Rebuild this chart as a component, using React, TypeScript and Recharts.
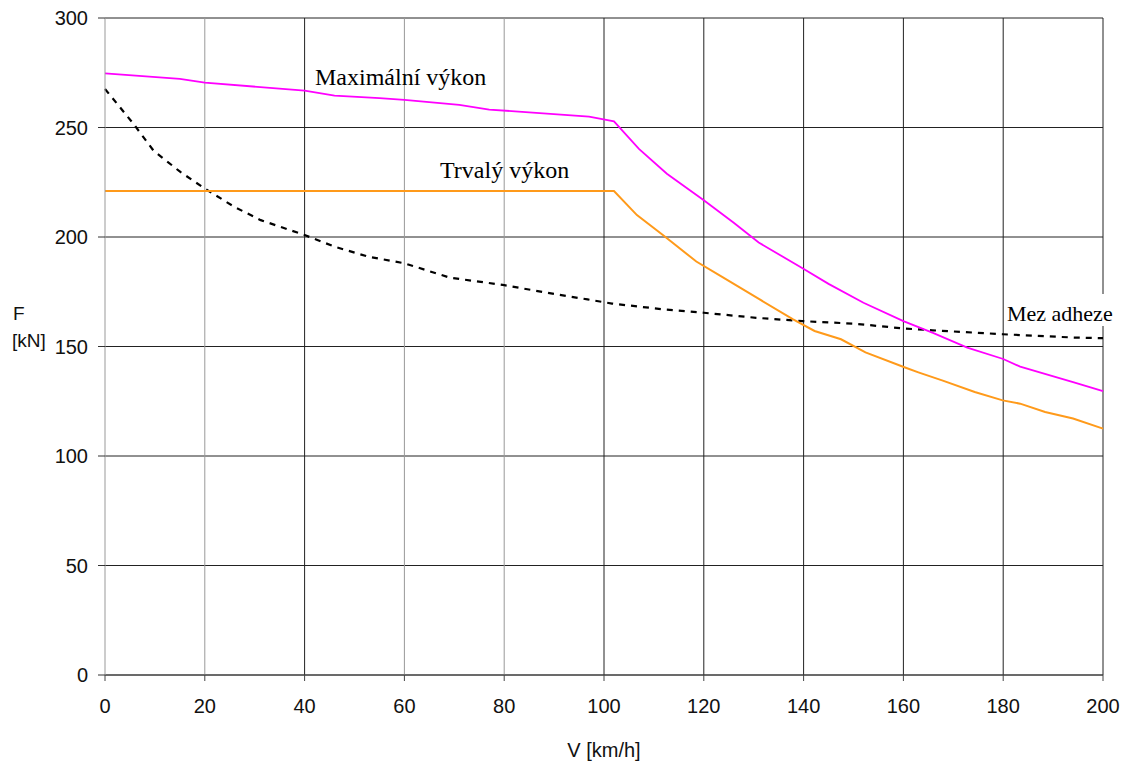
import React from 'react';
import { LineChart, Line, XAxis, YAxis, CartesianGrid, ReferenceLine } from 'recharts';

// speed [km/h] and force [kN]
const maxV = [0, 15, 20, 40, 46, 55, 60, 71, 77, 97, 102, 107, 112.6, 120, 126, 131, 139.7, 145, 152, 160, 165.8, 172.8, 180, 183.4, 194, 200];
const maxF = [274.7, 272.2, 270.5, 266.8, 264.6, 263.4, 262.6, 260.3, 258.2, 255, 252.8, 240.2, 228.9, 216.8, 206.5, 197.5, 185.8, 178.6, 170, 161.6, 156.3, 149.5, 144.3, 140.8, 133.7, 129.6];

const trvV = [0, 102, 106.6, 111.8, 118.5, 123.5, 131.2, 137.9, 142.2, 147.5, 152.4, 160.2, 163, 167.9, 174.3, 179.9, 183.4, 188.4, 194, 200];
const trvF = [221, 221, 210, 200.9, 188.8, 182, 171.5, 162.4, 157.1, 153.3, 147.3, 140.5, 138.2, 134.4, 129.2, 125.4, 123.9, 120.1, 117.1, 112.5];

const adhV = [0, 5.7, 9.7, 15.1, 20, 25.9, 31.2, 40, 46.1, 52.8, 60, 69, 80, 90, 96.7, 101.6, 112.2, 120, 130.5, 139.7, 150.3, 160.2, 165.8, 179.9, 194, 200];
const adhF = [267.6, 251.7, 239.5, 229.7, 222.1, 213.8, 207.7, 200.9, 195.5, 191, 188, 181.5, 178, 174, 171.5, 169.6, 166.9, 165.4, 163.1, 161.6, 160.4, 158.2, 157.4, 155.6, 154.1, 153.8];

const xTicks = [0, 20, 40, 60, 80, 100, 120, 140, 160, 180, 200];
const yTicks = [0, 50, 100, 150, 200, 250, 300];

const gridGrey = [20, 60, 80];

const toPoints = (vs: number[], fs: number[]) => vs.map((v, i) => ({ v, f: fs[i] }));

const sans = '"Liberation Sans", Arial, sans-serif';
const serif = '"Liberation Serif", "Times New Roman", serif';

export default function App() {
  const tickStyle = { fontSize: 20, fill: '#111', fontFamily: sans };
  return (
    <div style={{ position: 'absolute', left: 0, top: 0, width: 1130, height: 765, background: '#fff' }}>
      <LineChart width={1130} height={765} margin={{ top: 18, right: 27, bottom: 0, left: 0 }}>
        <CartesianGrid vertical={false} stroke="#222" strokeWidth={1} />
        {xTicks.slice(1).map((t) => (
          <ReferenceLine key={t} x={t} stroke={gridGrey.includes(t) ? '#999' : '#222'} strokeWidth={1} />
        ))}
        <XAxis
          type="number"
          dataKey="v"
          domain={[0, 200]}
          ticks={xTicks}
          height={90}
          tickSize={6}
          tickMargin={18}
          tick={tickStyle}
          stroke="#444"
          tickLine={{ stroke: '#444' }}
        />
        <YAxis
          type="number"
          dataKey="f"
          domain={[0, 300]}
          ticks={yTicks}
          width={105}
          tickSize={7}
          tickMargin={10}
          tick={tickStyle}
          axisLine={{ stroke: '#999' }}
          tickLine={{ stroke: '#333' }}
        />
        <Line
          data={toPoints(adhV, adhF)}
          dataKey="f"
          type="linear"
          stroke="#000"
          strokeWidth={2.2}
          strokeDasharray="6 6"
          dot={false}
          isAnimationActive={false}
        />
        <Line
          data={toPoints(trvV, trvF)}
          dataKey="f"
          type="linear"
          stroke="#ff9a1a"
          strokeWidth={2}
          dot={false}
          isAnimationActive={false}
        />
        <Line
          data={toPoints(maxV, maxF)}
          dataKey="f"
          type="linear"
          stroke="#ff00ff"
          strokeWidth={1.8}
          dot={false}
          isAnimationActive={false}
        />
      </LineChart>
      <svg
        width={1130}
        height={765}
        style={{ position: 'absolute', left: 0, top: 0, pointerEvents: 'none' }}
      >
        <text x={315} y={85} fontFamily={serif} fontSize={24} fill="#000">Maximální výkon</text>
        <text x={440} y={178} fontFamily={serif} fontSize={24} fill="#000">Trvalý výkon</text>
        <rect x={1004} y={294} width={112} height={32} fill="#fff" />
        <text x={1007} y={321} fontFamily={serif} fontSize={22} fill="#000">Mez adheze</text>
        <text x={13} y={320} fontFamily={sans} fontSize={19} fill="#111">F</text>
        <text x={12} y={347} fontFamily={sans} fontSize={19} fill="#111">[kN]</text>
        <text x={604} y={757} textAnchor="middle" fontFamily={sans} fontSize={20} fill="#111">V [km/h]</text>
      </svg>
    </div>
  );
}
